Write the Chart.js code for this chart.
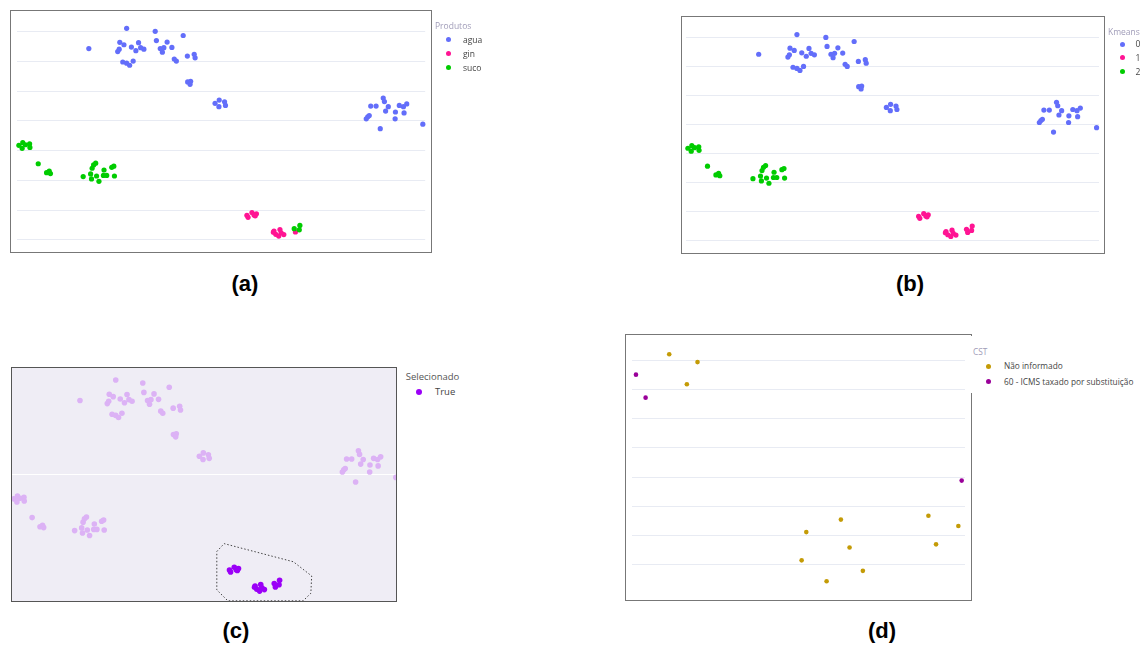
<!DOCTYPE html>
<html>
<head>
<meta charset="utf-8">
<script src="https://cdn.jsdelivr.net/npm/chart.js@4.4.1/dist/chart.umd.min.js"></script>
<style>
body{margin:0;width:1142px;height:646px;background:#fff;position:relative;overflow:hidden;font-family:"Open Sans",sans-serif}
canvas{position:absolute}
.frame{position:absolute;border:1px solid #777;box-sizing:border-box;pointer-events:none;z-index:2}
.txt{position:absolute;white-space:nowrap;z-index:4}
.dot{position:absolute;border-radius:50%;z-index:4}
.cap{position:absolute;width:80px;text-align:center;font:bold 22px "Liberation Sans",Arial,sans-serif;color:#000}
#legD{position:absolute;background:#fff;z-index:3}
</style>
</head>
<body>
<canvas id="ca" width="422" height="243" style="left:10px;top:10px"></canvas>
<div class="frame" style="left:10px;top:10px;width:422px;height:243px"></div>
<canvas id="cb" width="424" height="238" style="left:681px;top:16px"></canvas>
<div class="frame" style="left:681px;top:16px;width:424px;height:238px"></div>
<canvas id="cc" width="386" height="235" style="left:11px;top:367px;background:#efedf5"></canvas>
<div class="frame" style="left:11px;top:367px;width:386px;height:235px;border-color:#555"></div>
<canvas id="cd" width="347" height="267" style="left:625px;top:334px"></canvas>
<div class="frame" style="left:625px;top:334px;width:347px;height:267px"></div>
<div id="legD" style="left:969px;top:336px;width:173px;height:57px"></div>
<div class="cap" style="left:205px;top:271px">(a)</div>
<div class="cap" style="left:870px;top:271px">(b)</div>
<div class="cap" style="left:196px;top:618px">(c)</div>
<div class="cap" style="left:842px;top:618px">(d)</div>
<script>
// pontos t-SNE (mesmos em a, b e c)
var aguaX = [-44.4,-31.7,-34.0,-32.6,-30.1,-27.7,-28.6,-27.0,-25.9,-34.7,-34.2,-33.0,-31.7,-30.7,-29.5,
  -22.1,-21.7,-18.1,-16.5,-20.4,-19.2,-19.7,-12.7,-15.7,-15.0,-11.3,-9.0,-8.7,-11.2,-10.2,-10.4,
  -2.0,-0.6,-0.7,1.2,1.5,
  54.5,54.9,50.3,52.1,56.2,55.3,49.3,48.8,49.8,59.9,61.3,62.4,58.6,61.5,58.5,53.5,67.8]
var aguaY = [34.3,41.1,36.4,35.6,34.8,36.3,33.6,34.6,34.1,33.3,34.1,29.8,29.4,28.7,30.1,
  40.1,37.0,36.5,34.7,34.3,34.6,33.1,38.7,30.8,30.1,31.8,32.4,31.2,23.1,23.3,22.3,
  15.9,17.0,14.8,16.4,15.2,
  17.7,16.5,15.0,15.0,14.8,13.3,11.4,10.7,11.8,15.2,14.8,15.7,13.0,12.7,10.7,7.4,8.9]
var sucoX = [-67.9,-66.6,-65.7,-66.8,-64.3,-64.2,-61.4,-58.6,-57.7,-57.3,
  -46.3,-43.8,-43.5,-41.8,-41.0,-43.3,-42.8,-42.1,-39.3,-39.5,-38.4,-36.7,-36.0,-35.8]
var sucoY = [1.8,2.7,2.0,0.8,2.3,1.1,-4.4,-7.4,-6.9,-7.7,
  -8.7,-7.8,-9.5,-8.5,-10.3,-5.9,-4.8,-4.2,-6.5,-8.3,-8.3,-5.6,-5.2,-8.5]
var ginX = [8.7,9.1,10.4,11.1,11.9,11.5,17.8,18.4,19.4,19.8,20.2,21.1,17.6,25.0]
var ginY = [-21.7,-22.4,-20.8,-21.6,-21.2,-21.9,-27.0,-28.1,-28.7,-26.5,-27.6,-28.2,-27.4,-27.3]
// suco que caiu no cluster 1
var sucoBaixoX = [24.6,26.3,26.5]
var sucoBaixoY = [-26.2,-26.6,-25.1]
// contorno do laço (c)
var lacoX = [4.2,6.8,31.4,37.9,37.6,34.9,8.1,4.2,4.2]
var lacoY = [-15.6,-13.0,-19.0,-23.7,-29.4,-31.9,-31.9,-28.3,-15.6]
// (d)
var naoInfX = [11.1,19.6,16.4,52.3,62.7,65.3,50.9,69.3,58.4,89.0,98.0,91.3]
var naoInfY = [72.2,69.5,61.9,11.1,15.4,5.8,1.4,-2.2,-5.8,16.7,13.2,6.9]
var icmsX = [1.1,4.0,99.0]
var icmsY = [65.2,57.3,28.8]

var ticksAB = [-30,-20,-10,0,10,20,30,40]
var ticksC = [10]
var ticksD = [0,10,20,30,40,50,60,70]

var produtos = ['agua','gin','suco']
var corProd = ['#636efa','#ff1493','#00cc00']
var kmeans = ['0','1','2']
var selecionado = ['True']
var cst = ['Não informado','60 - ICMS taxado por substituição']
var corCst = ['#c49b06','#9a0099']

pts = (xs, ys) => xs.map((x, i) => ({x: x, y: ys[i]}))
ds = (label, data, cor, r, order) => ({label: label, data: data, backgroundColor: cor, pointRadius: r,
  pointBorderWidth: 0, borderWidth: 0, clip: false, order: order})

function grafico(id, datasets, xr, yr, pad, yt, gridCor) {
  return new Chart(document.getElementById(id), {
    type: 'scatter',
    data: {datasets: datasets},
    options: {
      animation: false, responsive: false, events: [], devicePixelRatio: 1,
      layout: {padding: pad, autoPadding: false},
      plugins: {legend: {display: false}, tooltip: {enabled: false}},
      scales: {
        x: {type: 'linear', display: false, min: xr[0], max: xr[1]},
        y: {type: 'linear', min: yr[0], max: yr[1],
          ticks: {display: false}, border: {display: false},
          grid: {color: gridCor, drawTicks: false, lineWidth: 1},
          afterBuildTicks: s => { s.ticks = yt.map(v => ({value: v})) }}
      }
    }
  })
}

var todosX = aguaX.concat(sucoX), todosY = aguaY.concat(sucoY)
var selX = ginX.concat(sucoBaixoX), selY = ginY.concat(sucoBaixoY)

grafico('ca', [
  ds('agua', pts(aguaX, aguaY), corProd[0], 2.6, 3),
  ds('gin', pts(ginX, ginY), corProd[1], 2.6, 2),
  ds('suco', pts(sucoX.concat(sucoBaixoX), sucoY.concat(sucoBaixoY)), corProd[2], 2.6, 1)
], [-68.6, 68.6], [-32.5, 42.5], {left: 6.8, right: 6.8, top: 14.2, bottom: 5.6}, ticksAB, '#e8ebf3')

grafico('cb', [
  ds('0', pts(aguaX, aguaY), corProd[0], 2.6, 3),
  ds('1', pts(selX, selY), corProd[1], 2.6, 2),
  ds('2', pts(sucoX, sucoY), corProd[2], 2.6, 1)
], [-68.6, 68.6], [-32.5, 42.5], {left: 4.8, right: 6, top: 14.5, bottom: 6.5}, ticksAB, '#e8ebf3')

var cc = grafico('cc', [
  ds('False', pts(todosX, todosY), '#dcb2f5', 2.8, 3),
  ds('True', pts(selX, selY), '#9b00f7', 2.8, 2),
  {label: 'laco', data: pts(lacoX, lacoY), showLine: true, borderColor: '#444', borderWidth: 1,
    borderDash: [1.5, 2], pointRadius: 0, clip: false, order: 1}
], [-68.9, 68.2], [-32.3, 45.4], 0, ticksC, '#ffffff')
cc.data.datasets[0].clip = 0; cc.data.datasets[1].clip = 0; cc.update()

grafico('cd', [
  ds(cst[0], pts(naoInfX, naoInfY), corCst[0], 2.3, 2),
  ds(cst[1], pts(icmsX, icmsY), corCst[1], 2.3, 1)
], [0, 100], [-10.5, 77.1], {left: 7.3, right: 7, top: 6, bottom: 6}, ticksD, '#e8ebf3')

function texto(s, x, cy, fs, cor) {
  var d = document.createElement('div')
  d.className = 'txt'
  d.textContent = s
  d.style.cssText = 'left:' + x + 'px;top:' + (cy - fs * 0.7) + 'px;font-size:' + fs + 'px;line-height:' + (fs * 1.4) + 'px;color:' + cor
  document.body.appendChild(d)
}
function legenda(o) {
  texto(o.titulo, o.x, o.ty, o.fs, o.tcor)
  o.labels.forEach((l, i) => {
    var cy = o.y0 + i * o.dy
    var m = document.createElement('div')
    m.className = 'dot'
    m.style.cssText = 'left:' + (o.mx - o.r) + 'px;top:' + (cy - o.r) + 'px;width:' + 2 * o.r + 'px;height:' + 2 * o.r + 'px;background:' + o.cores[i]
    document.body.appendChild(m)
    texto(l, o.tx, cy, o.fs, '#444')
  })
}
legenda({titulo: 'Produtos', labels: produtos, cores: corProd, x: 435, ty: 25.7, y0: 39.5, dy: 14.2, mx: 448, tx: 463, fs: 8.5, r: 2.5, tcor: '#a09cb8'})
legenda({titulo: 'Kmeans', labels: kmeans, cores: corProd, x: 1108, ty: 31.7, y0: 44, dy: 13.9, mx: 1122, tx: 1135.5, fs: 8.5, r: 2.5, tcor: '#a09cb8'})
legenda({titulo: 'Selecionado', labels: selecionado, cores: ['#9b00f7'], x: 405.7, ty: 377, y0: 392, dy: 15, mx: 419, tx: 435, fs: 9.5, r: 3, tcor: '#555'})
legenda({titulo: 'CST', labels: cst, cores: corCst, x: 973, ty: 351.7, y0: 366, dy: 15.7, mx: 988, tx: 1004, fs: 8.3, r: 2.5, tcor: '#a09cb8'})
</script>
</body>
</html>
